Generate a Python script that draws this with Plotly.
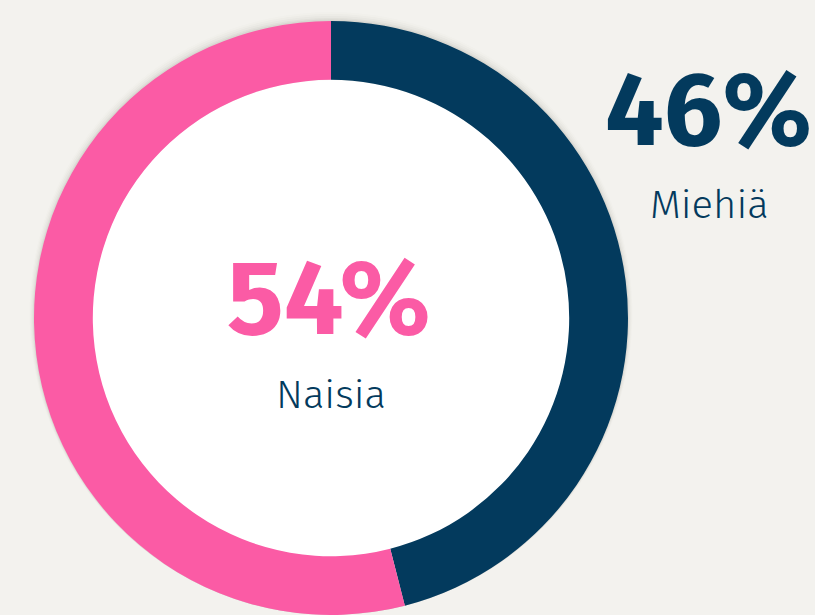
import plotly.graph_objects as go

labels = ["Miehiä", "Naisia"]
values = [46, 54]
colors = ["#033a5d", "#fb5ba5"]
pct_text = ["46%", "54%"]

W, H = 815, 615
cx, cy, R, r_in = 331, 319, 298, 239

fig = go.Figure()
# soft shadow rings
for extra, a in [(9, 0.012), (7, 0.018), (5, 0.025), (3, 0.035), (1.5, 0.05)]:
    rr = R + extra
    fig.add_trace(go.Pie(values=[1], marker=dict(colors=[f"rgba(60,50,30,{a})"], line=dict(width=0)),
                         hole=(R - 20) / rr,
                         textinfo="none", hoverinfo="skip", showlegend=False, sort=False,
                         domain=dict(x=[(cx - rr) / W, (cx + rr) / W],
                                     y=[max(0, (H - cy - rr) / H), (H - cy + rr) / H])))

fig.add_trace(go.Pie(
    labels=labels, values=values, hole=r_in / R, sort=False, direction="clockwise",
    rotation=0, marker=dict(colors=colors, line=dict(width=0)),
    textinfo="none", showlegend=False,
    domain=dict(x=[(cx - R) / W, (cx + R) / W], y=[max(0, (H - cy - R) / H), (H - cy + R) / H]),
))

fig.add_shape(type="circle", xref="paper", yref="paper", layer="below",
              x0=(cx - r_in) / W, x1=(cx + r_in) / W,
              y0=(H - cy - r_in) / H, y1=(H - cy + r_in) / H,
              fillcolor="white", line=dict(width=0))

fam = "Fira Sans, Open Sans, Noto Sans, sans-serif"
def ann(x, y, text, size, color, weight):
    fig.add_annotation(x=x / W, y=1 - y / H, xref="paper", yref="paper", text=text,
                       xanchor="center", yanchor="middle", showarrow=False,
                       font=dict(family=fam, size=size, color=color, weight=weight))

ann(329, 298, pct_text[1], 106, colors[1], 700)
ann(331, 395, labels[1], 40, colors[0], 300)
ann(708, 111, pct_text[0], 104, colors[0], 700)
ann(709, 205, labels[0], 40, colors[0], 300)

fig.update_layout(width=W, height=H, margin=dict(l=0, r=0, t=0, b=0),
                  paper_bgcolor="#f3f2ee", plot_bgcolor="#f3f2ee")
fig.write_html("out.html", config={"displayModeBar": False},
               post_script="document.body.style.margin='0';")
